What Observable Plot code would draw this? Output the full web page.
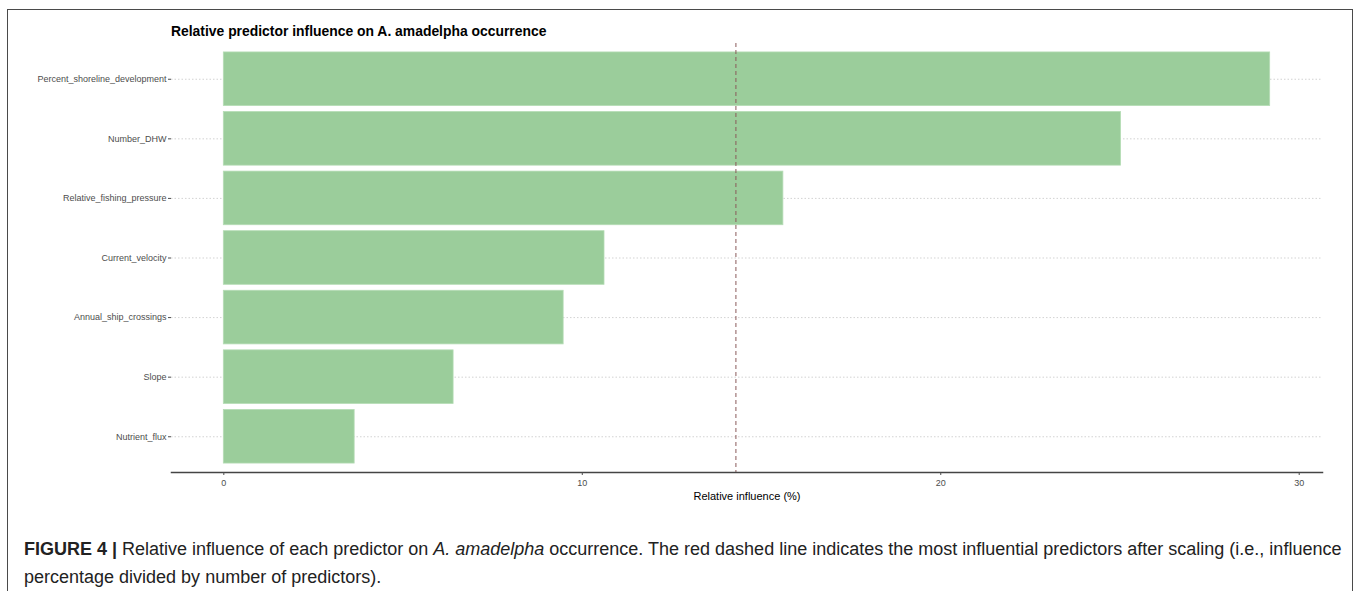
<!DOCTYPE html>
<html>
<head>
<meta charset="utf-8">
<script src="https://cdn.jsdelivr.net/npm/d3@7"></script>
<script src="https://cdn.jsdelivr.net/npm/@observablehq/plot@0.6"></script>
<style>
  html, body { margin: 0; padding: 0; background: #fff; }
  body { width: 1358px; height: 591px; position: relative; overflow: hidden; font-family: "Liberation Sans", Arial, sans-serif; }
  #frame { position: absolute; left: 7px; top: 9px; width: 1346px; height: 620px; border: 1.5px solid #4a4a4a; border-bottom: none; box-sizing: border-box; }
  #title { position: absolute; left: 171px; top: 23px; font: bold 13.9px "Liberation Sans", Arial, sans-serif; line-height: 16px; color: #000; white-space: nowrap; }
  #chart { position: absolute; left: 0; top: 0; }
  #caption { position: absolute; left: 24px; top: 535px; font: 18px "Liberation Sans", Arial, sans-serif; line-height: 28px; color: #222; white-space: nowrap; }
</style>
</head>
<body>
<div id="frame"></div>
<div id="chart"></div>
<div id="title">Relative predictor influence on A. amadelpha occurrence</div>
<div id="caption"><b>FIGURE 4 |</b> Relative influence of each predictor on <i>A. amadelpha</i> occurrence. The red dashed line indicates the most influential predictors after scaling (i.e., influence<br>percentage divided by number of predictors).</div>
<script>
const predictors = ["Percent_shoreline_development", "Number_DHW", "Relative_fishing_pressure", "Current_velocity", "Annual_ship_crossings", "Slope", "Nutrient_flux"];
const influence = [29.19, 25.03, 15.61, 10.62, 9.48, 6.41, 3.65];

const data = predictors.map((p, i) => ({predictor: p, value: influence[i]}));
const threshold = 100 / predictors.length;
const maxV = d3.max(influence);
const pad = maxV * 0.05;

const chart = Plot.plot({
  width: 1358,
  height: 510,
  marginLeft: 171,
  marginRight: 36,
  marginTop: 43,
  marginBottom: 38,
  style: { fontFamily: "'Liberation Sans', Arial, sans-serif", background: "transparent" },
  x: { domain: [-pad, maxV + pad], ticks: [0, 10, 20, 30] },
  y: { domain: predictors, paddingInner: 0.1, paddingOuter: 0.15, round: false },
  marks: [
    Plot.gridY({ stroke: "#c8c8c8", strokeOpacity: 1, strokeDasharray: "1.5,2", strokeWidth: 0.8 }),
    Plot.barX(data, { x: "value", y: "predictor", fill: "#9BCD9B", stroke: "#b5dcb5", strokeWidth: 0.8 }),
    Plot.ruleX([threshold], { stroke: "#8a5a5a", strokeDasharray: "4,3", strokeWidth: 1 }),
    Plot.frame({ anchor: "bottom", stroke: "#444", strokeWidth: 1.5 }),
    Plot.axisY({ tickSize: 3, tickPadding: 2, fontSize: 9, color: "#4d4d4d", label: null }),
    Plot.axisX({ ticks: [0, 10, 20, 30], tickSize: 3, tickPadding: 4, fontSize: 9, color: "#4d4d4d",
      label: "Relative influence (%)", labelAnchor: "center", labelArrow: "none", labelOffset: 27 })
  ]
});
chart.querySelectorAll("g[aria-label='x-axis label'] text").forEach(t => { t.setAttribute("font-size", "11"); t.setAttribute("fill", "#000"); });
document.getElementById("chart").appendChild(chart);
</script>
</body>
</html>
